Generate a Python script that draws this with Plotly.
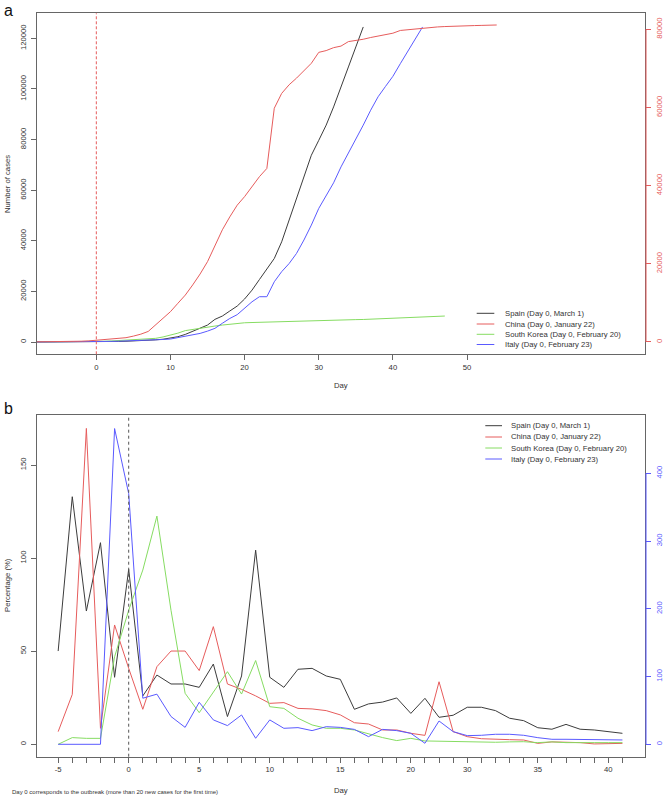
import plotly.graph_objects as go

# ---------------- Panel a: cumulative cases ----------------
days_spain_a = list(range(-8, 37))
spain_a = [2, 2, 2, 2, 6, 13, 15, 32,
           84, 120, 165, 230, 300, 400, 500, 650, 850, 1100,
           1450, 2100, 3000, 4200, 5400, 6700, 8950, 10260, 12240, 14200,
           17000, 20500, 24700, 28700, 33000, 39600, 48200, 56700, 65300, 73800,
           79700, 85700, 92900, 100500, 108700, 116600, 124500]

days_china_a = list(range(-8, 55))
china_a = [41, 41, 41, 45, 62, 121, 198, 291,
           450, 550, 650, 800, 1100, 1500, 2000, 2700, 4350, 6060,
           7760, 9900, 12000, 14600, 17400, 20560, 24800, 28700, 32000, 35000,
           37200, 39750, 42300, 44400, 59800, 63600, 65800, 67500, 69400, 71300,
           74100, 74550, 75300, 75700, 76850, 77100, 77450, 77900, 78300, 78650,
           79000, 79700, 79900, 80000, 80200, 80400, 80600, 80700, 80800, 80850,
           80900, 80950, 81000, 81050, 81100]

days_korea_a = list(range(-8, 48))
korea_a = [28, 28, 28, 29, 30, 31, 51, 104,
           200, 300, 400, 550, 700, 850, 1000, 1200, 1450, 2000,
           2600, 3500, 4500, 5000, 5400, 5800, 6300, 6700, 7100, 7400,
           7600, 7700, 7800, 7850, 7900, 8000, 8050, 8150, 8250, 8350,
           8400, 8500, 8700, 8750, 8800, 8850, 8900, 9000, 9100, 9200,
           9300, 9450, 9600, 9750, 9900, 10050, 10150, 10260]

days_italy_a = list(range(-8, 45))
italy_a = [3, 3, 3, 3, 3, 3, 20, 79,
           150, 200, 250, 320, 400, 480, 580, 700, 850, 1000,
           1180, 1700, 2400, 2900, 3400, 4300, 5400, 7400, 9300, 10800,
           13300, 15900, 17900, 17900, 23800, 27800, 31000, 35000, 40300, 46200,
           52800, 58000, 62900, 69200, 74700, 79700, 85700, 91600, 96900, 101000,
           105000, 110000, 114900, 119900, 124500]

xa_ticks = [0, 10, 20, 30, 40, 50]
ya_left_ticks = [0, 20000, 40000, 60000, 80000, 100000, 120000]
ya_right_ticks = [0, 20000, 40000, 60000, 80000]

# ---------------- Panel b: daily percentage growth ----------------
pos_b = list(range(-5, 36))
spain_b = [50.1, 133, 71.6, 108.3, 36, 94, 26, 37.2, 32.4, 32.4,
           30.6, 43.1, 14.9, 36.7, 104.3, 36, 30.6, 40.3, 40.8, 36.7,
           34.9, 18.8, 21.7, 22.7, 24.9, 16.6, 24.7, 14.5, 15.6, 19.9,
           19.9, 18.1, 14, 12.7, 8.9, 8.1, 10.7, 8.1, 7.7, 6.8, 5.9]
china_b = [6.8, 26.8, 169.7, 8.6, 64.1, 40.8, 18.8, 41.7, 50.1, 50.1,
           39.6, 63.2, 32.4, 29.5, 26, 22, 22.4, 19.3, 19, 18.1,
           15.8, 11.6, 10.9, 7.7, 7.7, 5.9, 4.8, 33.6, 6.8, 4.1,
           3, 2.9, 2.5, 2.3, 0.5, 1.3, 1.3, 0.9, 0.2, 0.5, 0.5]
korea_b = [0, 3.6, 3.2, 3.2, 47, 72, 93.6, 122.6, 72, 27.4,
           17, 28, 39, 27, 45, 20.2, 19.3, 14, 10.4, 8.6,
           8.6, 7.7, 5.5, 3.6, 2, 3.2, 1.8, 1.6, 1.4, 1.1,
           1.1, 1.1, 1.3, 1.4, 0.9, 1.3, 0.9, 0.7, 0.9, 0.9, 0.9]
italy_b = [0, 0, 0, 0, 466, 370, 68, 74, 41, 25,
           62, 36, 27.6, 43.3, 8.9, 36, 23.6, 24.6, 20.2, 26,
           25, 22, 11.3, 22, 20.2, 16.2, 1.5, 34.4, 18.7, 12.8,
           13.3, 14.8, 14.8, 13.3, 9.8, 7.4, 7.4, 6.9, 7.4, 6.4, 6.4]

xb_tick_pos = list(range(-5, 36))
xb_label_map = {-5: "-5", 0: "0", 5: "5", 10: "10", 15: "15", 20: "20",
                24: "30", 29: "35", 34: "40"}
yb_left_ticks = [0, 50, 100, 150]
yb_right_ticks = [0, 100, 200, 300, 400]

series_names = ["Spain (Day 0, March 1)", "China (Day 0, January 22)",
                "South Korea (Day 0, February 20)", "Italy (Day 0, February 23)"]
colors = ["#3c3c3c", "#e65c5c", "#86dc62", "#5a5aff"]

# ---------------- layout geometry ----------------
W, H = 664, 798
ML, MR, MT, MB = 37, 19, 13, 41
PW, PH = W - ML - MR, H - MT - MB


def px(x):
    return (x - ML) / PW


def py(y):
    return (H - MB - y) / PH


FONT = "Liberation Sans, Arial, Helvetica, sans-serif"
TXT = "#333333"
AX = "#666666"
FS = 7.7

fig = go.Figure()

# panel a traces
fig.add_trace(go.Scatter(x=days_spain_a, y=spain_a, mode="lines", line=dict(color=colors[0], width=1),
                         xaxis="x", yaxis="y", showlegend=False))
fig.add_trace(go.Scatter(x=days_china_a, y=china_a, mode="lines", line=dict(color=colors[1], width=1),
                         xaxis="x", yaxis="y2", showlegend=False))
fig.add_trace(go.Scatter(x=days_korea_a, y=korea_a, mode="lines", line=dict(color=colors[2], width=1),
                         xaxis="x", yaxis="y", showlegend=False))
fig.add_trace(go.Scatter(x=days_italy_a, y=italy_a, mode="lines", line=dict(color=colors[3], width=1),
                         xaxis="x", yaxis="y", showlegend=False))

# panel b traces
fig.add_trace(go.Scatter(x=pos_b, y=spain_b, mode="lines", line=dict(color=colors[0], width=1),
                         xaxis="x2", yaxis="y3", showlegend=False))
fig.add_trace(go.Scatter(x=pos_b, y=china_b, mode="lines", line=dict(color=colors[1], width=1),
                         xaxis="x2", yaxis="y3", showlegend=False))
fig.add_trace(go.Scatter(x=pos_b, y=korea_b, mode="lines", line=dict(color=colors[2], width=1),
                         xaxis="x2", yaxis="y3", showlegend=False))
fig.add_trace(go.Scatter(x=pos_b, y=italy_b, mode="lines", line=dict(color=colors[3], width=1),
                         xaxis="x2", yaxis="y4", showlegend=False))

top_dom = [py(354.3), py(13.3)]
bot_dom = [py(756.7), py(415)]

tickfont = dict(family=FONT, size=FS, color=TXT)
common_x = dict(showgrid=False, zeroline=False, showline=True, linecolor=AX, linewidth=1, mirror=True,
                ticks="outside", ticklen=5, tickcolor=AX, tickfont=tickfont, automargin=False)
common_y = dict(showgrid=False, zeroline=False, showline=True, linecolor=AX, linewidth=1, mirror=True,
                ticks="outside", ticklen=5, tickcolor=AX, tickfont=tickfont, tickangle=-90,
                ticklabelstandoff=2, automargin=False)

fig.update_layout(
    width=W, height=H, margin=dict(l=ML, r=MR, t=MT, b=MB, autoexpand=False),
    paper_bgcolor="white", plot_bgcolor="white",
    font=dict(family=FONT, size=FS, color=TXT),
    xaxis=dict(domain=[0, 1], anchor="y", range=[-8, 74], tickvals=xa_ticks, **common_x),
    yaxis=dict(domain=top_dom, anchor="x", range=[-4860, 129900], tickvals=ya_left_ticks,
               tickformat="d", **common_y),
    yaxis2=dict(overlaying="y", anchor="x", side="right", range=[-3150, 84090],
                tickvals=ya_right_ticks, tickformat="d", showgrid=False, zeroline=False,
                showline=False, ticks="outside", ticklen=5, tickcolor=colors[1], tickangle=-90,
                ticklabelstandoff=2, automargin=False,
                tickfont=dict(family=FONT, size=FS, color=colors[1])),
    xaxis2=dict(domain=[0, 1], anchor="y3", range=[-6.5, 36.6], tickvals=xb_tick_pos,
                ticktext=[xb_label_map.get(p, "") for p in xb_tick_pos], **common_x),
    yaxis3=dict(domain=bot_dom, anchor="x2", range=[-6.66, 176.9], tickvals=yb_left_ticks, **common_y),
    yaxis4=dict(overlaying="y3", anchor="x2", side="right", range=[-18.3, 486],
                tickvals=yb_right_ticks, showgrid=False, zeroline=False,
                showline=False, ticks="outside", ticklen=5, tickcolor=colors[3], tickangle=-90,
                ticklabelstandoff=2, automargin=False,
                tickfont=dict(family=FONT, size=FS, color=colors[3])),
)

shapes = []
# day-0 reference lines
shapes.append(dict(type="line", xref="x", yref="y domain", x0=0, x1=0, y0=0, y1=1,
                   line=dict(color="#e65c5c", width=1, dash="3px,2px")))
shapes.append(dict(type="line", xref="x2", yref="y3 domain", x0=0, x1=0, y0=0, y1=1,
                   line=dict(color="#555555", width=1, dash="3px,3px")))
# coloured right-axis spines (span of the ticks)
shapes.append(dict(type="line", xref="paper", yref="y2", x0=px(646), x1=px(646),
                   y0=ya_right_ticks[0], y1=ya_right_ticks[-1], line=dict(color=colors[1], width=1)))
shapes.append(dict(type="line", xref="paper", yref="y4", x0=px(646), x1=px(646),
                   y0=yb_right_ticks[0], y1=yb_right_ticks[-1], line=dict(color=colors[3], width=1)))

annotations = []
# manual legends
legend_specs = [
    (476.7, 494.3, 502.7, [313.3, 324.0, 334.3, 344.5]),
    (485.3, 502.0, 509.3, [425.7, 437.0, 448.0, 459.0]),
]
for lx0, lx1, tx, rows in legend_specs:
    for name, col, ry in zip(series_names, colors, rows):
        shapes.append(dict(type="line", xref="paper", yref="paper", x0=px(lx0), x1=px(lx1),
                           y0=py(ry), y1=py(ry), line=dict(color=col, width=1)))
        annotations.append(dict(xref="paper", yref="paper", x=px(tx), y=py(ry), text=name,
                                showarrow=False, xanchor="left", yanchor="middle",
                                font=dict(family=FONT, size=FS, color=TXT)))

# panel letters
annotations.append(dict(xref="paper", yref="paper", x=px(2), y=py(0), text="a", showarrow=False,
                        xanchor="left", yanchor="top", font=dict(family=FONT, size=16, color="#111")))
annotations.append(dict(xref="paper", yref="paper", x=px(2), y=py(418.5), text="b", showarrow=False,
                        xanchor="left", yanchor="bottom", font=dict(family=FONT, size=16, color="#111")))
# axis titles
annotations.append(dict(xref="paper", yref="paper", x=px(7), y=py(184), text="Number of cases",
                        showarrow=False, textangle=-90, xanchor="center", yanchor="middle",
                        font=dict(family=FONT, size=FS, color=TXT)))
annotations.append(dict(xref="paper", yref="paper", x=px(7), y=py(585), text="Percentage (%)",
                        showarrow=False, textangle=-90, xanchor="center", yanchor="middle",
                        font=dict(family=FONT, size=FS, color=TXT)))
annotations.append(dict(xref="paper", yref="paper", x=px(341), y=py(385), text="Day",
                        showarrow=False, xanchor="center", yanchor="middle",
                        font=dict(family=FONT, size=FS, color=TXT)))
annotations.append(dict(xref="paper", yref="paper", x=px(341), y=py(790), text="Day",
                        showarrow=False, xanchor="center", yanchor="middle",
                        font=dict(family=FONT, size=FS, color=TXT)))
annotations.append(dict(xref="paper", yref="paper", x=px(10), y=py(792.5),
                        text="Day 0 corresponds to the outbreak (more than 20 new cases for the first time)",
                        showarrow=False, xanchor="left", yanchor="middle",
                        font=dict(family=FONT, size=6, color=TXT)))

fig.update_layout(shapes=shapes, annotations=annotations)
fig.write_html("out.html", config={"displayModeBar": False},
               post_script="document.body.style.margin='0';document.body.style.overflow='hidden';")
